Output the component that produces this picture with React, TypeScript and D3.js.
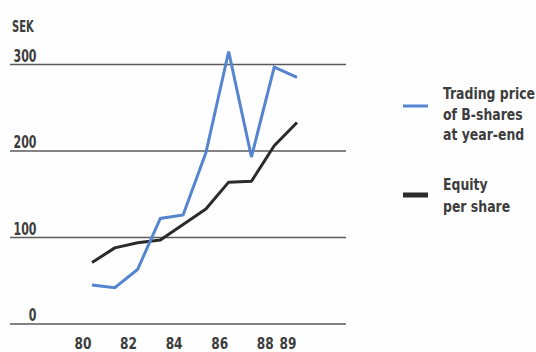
import React from "react";
import * as d3 from "d3";

const years = [1980, 1981, 1982, 1983, 1984, 1985, 1986, 1987, 1988, 1989];
const tradingPrice = [45, 42, 63, 122, 126, 198, 315, 193, 297, 285];
const equityPerShare = [71, 88, 94, 97, 115, 133, 164, 165, 206, 233];
const yTicks = [0, 100, 200, 300];
const xTickYears = [1980, 1982, 1984, 1986, 1988, 1989];
const legendItems = [
  { lines: ["Trading price", "of B-shares", "at year-end"], color: "#5584d0", width: 3 },
  { lines: ["Equity", "per share"], color: "#2b2b2b", width: 5 },
];

const W = 536;
const H = 352;
const FONT = "'DejaVu Sans Condensed', 'DejaVu Sans', sans-serif";
const TEXT = "#3d3d3d";

function Narrow(props: {
  x: number;
  y: number;
  size: number;
  squeeze: number;
  anchor?: "start" | "middle" | "end";
  children: string;
}) {
  const { x, y, size, squeeze, anchor = "start", children } = props;
  return (
    <text
      transform={`translate(${x},${y}) scale(${squeeze},1)`}
      fontFamily={FONT}
      fontWeight="bold"
      fontSize={size}
      fill={TEXT}
      textAnchor={anchor}
    >
      {children}
    </text>
  );
}

export default function App() {
  const x = d3.scaleLinear().domain([1980, 1989]).range([92, 297]);
  const y = d3.scaleLinear().domain([0, 300]).range([324, 64.5]);

  const line = d3
    .line<number>()
    .x((_, i) => x(years[i]))
    .y((v) => y(v))
    .curve(d3.curveLinear);

  return (
    <svg
      width={W}
      height={H}
      style={{ position: "absolute", left: 0, top: 0, background: "#fff" }}
    >
      <rect width={W} height={H} fill="#fefefe" />
      <Narrow x={12} y={32} size={15} squeeze={0.74}>
        SEK
      </Narrow>
      {yTicks.map((t) => (
        <g key={t}>
          <line
            x1={10}
            x2={346}
            y1={y(t)}
            y2={y(t)}
            stroke="#5a5a5a"
            strokeWidth={1.5}
          />
          <Narrow x={36.5} y={y(t) - 3} size={17} squeeze={0.72} anchor="end">
            {String(t)}
          </Narrow>
        </g>
      ))}
      {xTickYears.map((yr) => (
        <Narrow key={yr} x={x(yr) - 9} y={349} size={16.5} squeeze={0.82} anchor="middle">
          {String(yr).slice(2)}
        </Narrow>
      ))}
      <path
        d={line(equityPerShare) ?? ""}
        fill="none"
        stroke="#2b2b2b"
        strokeWidth={3}
        strokeLinejoin="round"
      />
      <path
        d={line(tradingPrice) ?? ""}
        fill="none"
        stroke="#5584d0"
        strokeWidth={3}
        strokeLinejoin="miter"
      />
      {legendItems.map((item, i) => {
        const top = i === 0 ? 99 : 190;
        const step = i === 0 ? 20.5 : 21.5;
        const markY = i === 0 ? 106 : 195;
        return (
          <g key={i}>
            <line
              x1={403}
              x2={428}
              y1={markY}
              y2={markY}
              stroke={item.color}
              strokeWidth={item.width}
            />
            {item.lines.map((l, j) => (
              <Narrow key={j} x={443} y={top + j * step} size={16.5} squeeze={0.84}>
                {l}
              </Narrow>
            ))}
          </g>
        );
      })}
    </svg>
  );
}
